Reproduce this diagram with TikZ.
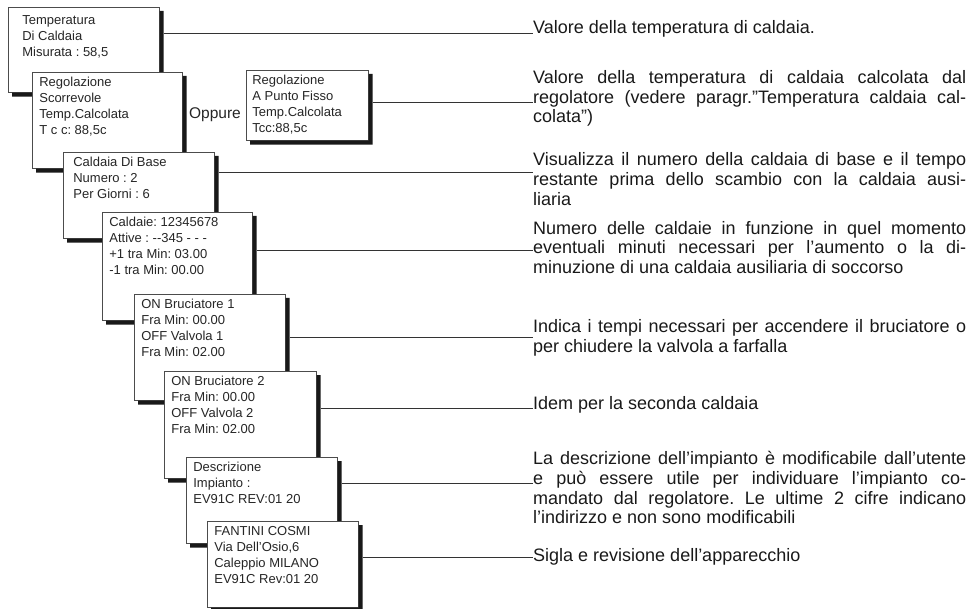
\documentclass[tikz,border=0pt]{standalone}
\usepackage{fontspec}
\setmainfont{Liberation Sans}
\frenchspacing
\usepackage{tikz}

\tikzset{
  schermo/.style={draw=black!70, fill=white, line width=0.7pt, anchor=north west,
    inner xsep=7pt, inner ysep=3.3pt, text=black!85,
    font=\fontsize{13}{16}\selectfont},
  ombra/.style={fill=black!90},
  nota/.style={anchor=base west, inner sep=0pt, text=black!90,
    font=\fontsize{18}{19.7}\selectfont},
  filo/.style={draw=black!80, line width=0.7pt}
}
\newcommand{\riga}[1]{\makebox[433pt][s]{#1}\\}

\begin{document}
\begin{tikzpicture}[x=1pt, y=-1pt]
\useasboundingbox (0,0) rectangle (971,609);

%the screens, each with its shadow
\node[schermo, inner xsep=14pt, inner ysep=6.3pt] (b1) at (8,7)
  {\parbox[t][72.4pt][t]{123pt}{\strut Temperatura\\Di Caldaia\\Misurata : 58,5}};
\fill[ombra] ([yshift=-4pt]b1.north east) rectangle ([shift={(4,4)}]b1.south east)
  ([xshift=4pt]b1.south west) rectangle ([shift={(4,4)}]b1.south east);
\node[schermo] (b2) at (32,72)
  {\parbox[t][89.4pt][t]{136pt}{\strut Regolazione\\Scorrevole\\Temp.Calcolata\\T c c: 88,5c}};
\fill[ombra] ([yshift=-4pt]b2.north east) rectangle ([shift={(4,4)}]b2.south east)
  ([xshift=4pt]b2.south west) rectangle ([shift={(4,4)}]b2.south east);
\node[schermo, inner xsep=6pt] (pf) at (246,70)
  {\parbox[t][63.4pt][t]{110pt}{\strut Regolazione\\A Punto Fisso\\Temp.Calcolata\\Tcc:88,5c}};
\fill[ombra] ([yshift=-4pt]pf.north east) rectangle ([shift={(4,4)}]pf.south east)
  ([xshift=4pt]pf.south west) rectangle ([shift={(4,4)}]pf.south east);
\node[font=\fontsize{15.5}{18}\selectfont, text=black!85] (oppure) at (215,115) {Oppure};
\node[schermo, inner xsep=10pt] (b3) at (63,152)
  {\parbox[t][79.4pt][t]{131pt}{\strut Caldaia Di Base\\Numero : 2\\Per Giorni : 6}};
\fill[ombra] ([yshift=-4pt]b3.north east) rectangle ([shift={(4,4)}]b3.south east)
  ([xshift=4pt]b3.south west) rectangle ([shift={(4,4)}]b3.south east);
\node[schermo] (b4) at (102,212)
  {\parbox[t][101.4pt][t]{136pt}{\strut Caldaie: 12345678\\Attive : -{}-345 - - -\\+1 tra Min: 03.00\\-1 tra Min: 00.00}};
\fill[ombra] ([yshift=-4pt]b4.north east) rectangle ([shift={(4,4)}]b4.south east)
  ([xshift=4pt]b4.south west) rectangle ([shift={(4,4)}]b4.south east);
\node[schermo] (b5) at (134,294)
  {\parbox[t][99.4pt][t]{137pt}{\strut ON Bruciatore 1\\Fra Min: 00.00\\OFF Valvola 1\\Fra Min: 02.00}};
\fill[ombra] ([yshift=-4pt]b5.north east) rectangle ([shift={(4,4)}]b5.south east)
  ([xshift=4pt]b5.south west) rectangle ([shift={(4,4)}]b5.south east);
\node[schermo] (b6) at (164,371)
  {\parbox[t][100.4pt][t]{138pt}{\strut ON Bruciatore 2\\Fra Min: 00.00\\OFF Valvola 2\\Fra Min: 02.00}};
\fill[ombra] ([yshift=-4pt]b6.north east) rectangle ([shift={(4,4)}]b6.south east)
  ([xshift=4pt]b6.south west) rectangle ([shift={(4,4)}]b6.south east);
\node[schermo] (b7) at (186,457)
  {\parbox[t][79.4pt][t]{137pt}{\strut Descrizione\\Impianto :\\EV91C REV:01 20}};
\fill[ombra] ([yshift=-4pt]b7.north east) rectangle ([shift={(4,4)}]b7.south east)
  ([xshift=4pt]b7.south west) rectangle ([shift={(4,4)}]b7.south east);
\node[schermo] (b8) at (207,521)
  {\parbox[t][79.4pt][t]{137pt}{\strut FANTINI COSMI\\Via Dell’Osio,6\\Caleppio MILANO\\EV91C Rev:01 20}};
\fill[ombra] ([yshift=-4pt]b8.north east) rectangle ([shift={(4,4)}]b8.south east)
  ([xshift=4pt]b8.south west) rectangle ([shift={(4,4)}]b8.south east);

%the notes
\node[nota] (p1) at (533,34) {Valore della temperatura di caldaia.};
\node[nota] (p2) at (533,83.5) {\parbox[t]{433pt}{%
  \riga{Valore della temperatura di caldaia calcolata dal}%
  \riga{regolatore (vedere paragr.”Temperatura caldaia cal-}%
  colata”)}};
\node[nota] (p3) at (533,166) {\parbox[t]{433pt}{%
  \riga{Visualizza il numero della caldaia di base e il tempo}%
  \riga{restante prima dello scambio con la caldaia ausi-}%
  liaria}};
\node[nota] (p4) at (533,234.3) {\parbox[t]{433pt}{%
  \riga{Numero delle caldaie in funzione in quel momento}%
  \riga{eventuali minuti necessari per l’aumento o la di-}%
  minuzione di una caldaia ausiliaria di soccorso}};
\node[nota] (p5) at (533,333) {\parbox[t]{433pt}{%
  \riga{Indica i tempi necessari per accendere il bruciatore o}%
  per chiudere la valvola a farfalla}};
\node[nota] (p6) at (533,409) {Idem per la seconda caldaia};
\node[nota] (p7) at (533,464.8) {\parbox[t]{433pt}{%
  \riga{La descrizione dell’impianto è modificabile dall’utente}%
  \riga{e può essere utile per individuare l’impianto co-}%
  \riga{mandato dal regolatore. Le ultime 2 cifre indicano}%
  l’indirizzo e non sono modificabili}};
\node[nota] (p8) at (533,561) {Sigla e revisione dell’apparecchio};

%the leaders
\coordinate (k1) at (533,33);
\coordinate (k2) at (533,102);
\coordinate (k3) at (533,172);
\coordinate (k4) at (533,250);
\coordinate (k5) at (533,337);
\coordinate (k6) at (533,408);
\coordinate (k7) at (533,483);
\coordinate (k8) at (533,557);
\draw[filo] ([xshift=4pt]b1.east |- k1) -- (k1);
\draw[filo] ([xshift=4pt]pf.east |- k2) -- (k2);
\draw[filo] ([xshift=4pt]b3.east |- k3) -- (k3);
\draw[filo] ([xshift=4pt]b4.east |- k4) -- (k4);
\draw[filo] ([xshift=4pt]b5.east |- k5) -- (k5);
\draw[filo] ([xshift=4pt]b6.east |- k6) -- (k6);
\draw[filo] ([xshift=4pt]b7.east |- k7) -- (k7);
\draw[filo] ([xshift=4pt]b8.east |- k8) -- (k8);
\end{tikzpicture}
\end{document}
